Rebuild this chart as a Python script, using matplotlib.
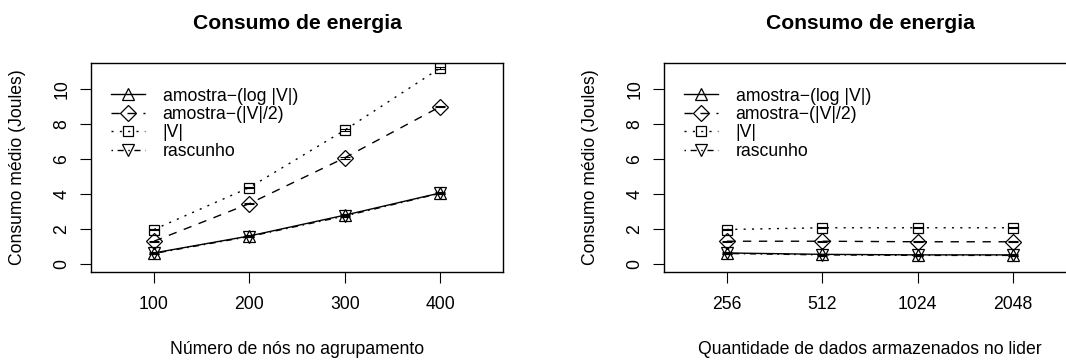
import matplotlib
matplotlib.use("Agg")
from matplotlib import pyplot as plt

plt.rcParams['font.family'] = ['Liberation Sans', 'DejaVu Sans']

# left panel: number of nodes in the cluster
nodes = [100, 200, 300, 400]
left_log = [0.63, 1.60, 2.79, 4.06]
left_half = [1.30, 3.45, 6.07, 8.99]
left_full = [1.97, 4.37, 7.65, 11.20]
left_draft = [0.60, 1.57, 2.74, 4.04]

# right panel: amount of data stored in the leader
data_labels = ["256", "512", "1024", "2048"]
right_log = [0.63, 0.55, 0.52, 0.52]
right_half = [1.30, 1.30, 1.27, 1.27]
right_full = [1.97, 2.07, 2.07, 2.07]
right_draft = [0.60, 0.52, 0.49, 0.49]

err = [0.04, 0.04, 0.04, 0.04]

names = ["amostra\u2212(log |V|)", "amostra\u2212(|V|/2)", "|V|", "rascunho"]
markers = ["^", "D", "s", "v"]
msizes = [8.5, 7.8, 7, 8.5]
styles = ["-", (0, (6, 5.5)), (0, (1.5, 4.5)), (0, (1.1, 3.3, 4.4, 3.3))]

FS = 12.7


def panel(ax, x, series, xticks, xticklabels, xlim, xlabel):
    for y, name, m, ms, ls in zip(series, names, markers, msizes, styles):
        ax.errorbar(x, y, yerr=err, fmt="none", ecolor="black", elinewidth=0.8,
                    capsize=3.5, capthick=0.8)
        ax.plot(x, y, color="black", linestyle=ls, linewidth=1.0, marker=m,
                markersize=ms, markerfacecolor="none", markeredgecolor="black",
                markeredgewidth=0.9, label=name)
    ax.set_xlim(*xlim)
    ax.set_ylim(-0.46, 11.49)
    ax.set_xticks(xticks)
    ax.set_xticklabels(xticklabels)
    ax.set_yticks([0, 2, 4, 6, 8, 10])
    for lbl in ax.get_yticklabels():
        lbl.set_rotation(90)
        lbl.set_va("center")
    ax.tick_params(axis="x", length=8, width=0.8, pad=9, labelsize=FS)
    ax.tick_params(axis="y", length=8, width=0.8, pad=7, labelsize=FS)
    for sp in ax.spines.values():
        sp.set_linewidth(1.0)
    ax.set_title("Consumo de energia", fontsize=15.2, fontweight="bold",
                 y=1.19, va="center", pad=0)
    ax.set_xlabel(xlabel, fontsize=FS, va="center")
    ax.xaxis.set_label_coords(0.5, -0.37)
    ax.set_ylabel("Consumo m\u00e9dio (Joules)", fontsize=FS, va="center")
    ax.yaxis.set_label_coords(-0.178, 0.5)
    ax.legend(loc="upper left", bbox_to_anchor=(0.0485, 0.882), frameon=False,
              fontsize=FS, borderpad=0, borderaxespad=0, handlelength=1.93,
              handletextpad=1.0, labelspacing=0.08)


fig = plt.figure(figsize=(10.66, 3.6), dpi=100)
ax1 = fig.add_axes([0.0854, 0.2444, 0.3865, 0.5806])
ax2 = fig.add_axes([0.6229, 0.2444, 0.3865, 0.5806])

panel(ax1, nodes, [left_log, left_half, left_full, left_draft],
      nodes, [str(n) for n in nodes], (34, 466),
      "N\u00famero de n\u00f3s no agrupamento")

pos = list(range(1, len(data_labels) + 1))
panel(ax2, pos, [right_log, right_half, right_full, right_draft],
      pos, data_labels, (0.34, 4.66),
      "Quantidade de dados armazenados no lider")

fig.savefig("out.png", dpi=100)
